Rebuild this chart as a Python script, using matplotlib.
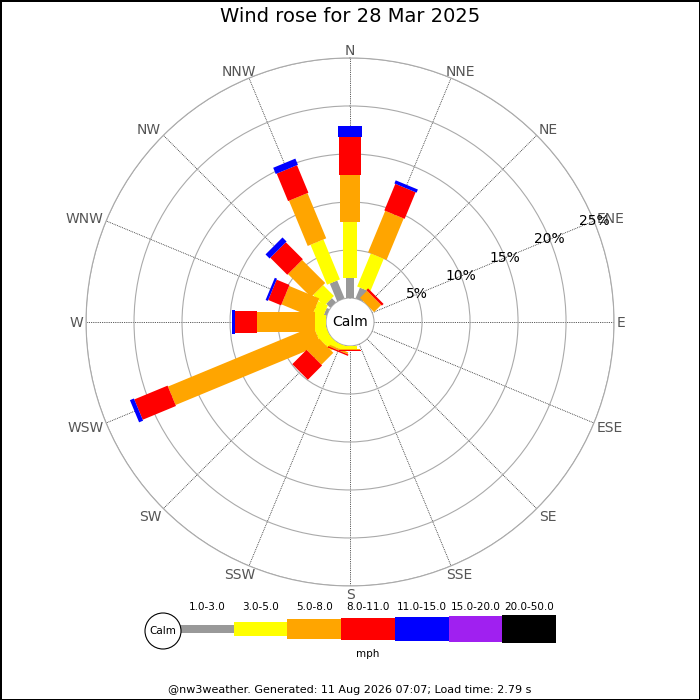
import numpy as np
import matplotlib
matplotlib.use("Agg")
from matplotlib import pyplot as plt
from matplotlib.patches import Ellipse

# wind directions, clockwise from north
directions = ["N", "NNE", "NE", "ENE", "E", "ESE", "SE", "SSE",
              "S", "SSW", "SW", "WSW", "W", "WNW", "NW", "NNW"]
speed_bins = ["1.0-3.0", "3.0-5.0", "5.0-8.0", "8.0-11.0", "11.0-15.0", "15.0-20.0", "20.0-50.0"]
bin_colors = ["#999999", "#ffff00", "#ffa500", "#ff0000", "#0000ff", "#a020f0", "#000000"]

# percent of time per direction for each speed bin
pct_1_3 = [2.1, 1.2, 0, 0, 0, 0, 0, 0, 0, 0, 0, 0, 0, 0.3, 0.6, 2.0]
pct_3_5 = [5.85, 3.73, 0, 0, 0, 0, 0, 0, 0.3, 0.5, 1.0, 1.2, 1.2, 1.1, 1.6, 4.5]
pct_5_8 = [4.85, 4.67, 1.05, 0, 0, 0, 0, 0, 0.1, 0.2, 1.76, 16.4, 6.0, 3.4, 3.4, 5.1]
pct_8_11 = [4.0, 3.0, 0.25, 0, 0, 0, 0, 0, 0.15, 0.15, 2.1, 3.75, 2.3, 1.45, 2.5, 3.1]
pct_11_15 = [1.1, 0.35, 0, 0, 0, 0, 0, 0, 0, 0, 0, 0.45, 0.26, 0.25, 0.6, 0.7]
pct_15_20 = [0] * 16
pct_20_50 = [0] * 16

ring_pcts = [5, 10, 15, 20, 25]
title = "Wind rose for 28 Mar 2025"
footer = "@nw3weather. Generated: 11 Aug 2026 07:07; Load time: 2.79 s"

# bar thickness per bin, in pixels
bar_px = [8, 14, 20, 22, 24, 26, 28]

fig = plt.figure(figsize=(7, 7), dpi=100)
fig.patch.set_edgecolor("black")
fig.patch.set_linewidth(2)

ax = fig.add_axes([0.1229, 0.1629, 0.7543, 0.7543], projection="polar")
ax.set_theta_zero_location("N")
ax.set_theta_direction(-1)
ax.set_ylim(0, 25)
ax.set_rorigin(-2.5)

theta = np.deg2rad(np.arange(16) * 22.5)
series = [pct_1_3, pct_3_5, pct_5_8, pct_8_11, pct_11_15, pct_15_20, pct_20_50]
bottom = np.zeros(16)
for vals, col, px in zip(series, bin_colors, bar_px):
    vals = np.array(vals, dtype=float)
    top = bottom + vals
    m = vals > 0
    if m.any():
        ax.vlines(theta[m], bottom[m], top[m], colors=col, linewidth=px * 0.72,
                  capstyle="butt", zorder=3)
    bottom = top

# grid
ax.set_xticks(theta)
ax.set_xticklabels([])
ax.set_yticks(ring_pcts)
ax.set_yticklabels([])
ax.xaxis.grid(True, color="#222222", linestyle=(0, (1, 1.2)), linewidth=0.6)
ax.yaxis.grid(True, color="#aaaaaa", linestyle="-", linewidth=0.8)
for s in ax.spines.values():
    s.set_color("#aaaaaa")
    s.set_linewidth(0.8)

# compass labels just outside the outer ring, pushed out by their own size
renderer = fig.canvas.get_renderer()
for th, lab in zip(theta, directions):
    t = ax.annotate(lab, xy=(th, 25), xytext=(0, 0), textcoords="offset pixels",
                    ha="center", va="center_baseline", color="#555555", fontsize=10,
                    annotation_clip=False)
    w = t.get_window_extent(renderer).width
    s, c = np.sin(th), np.cos(th)
    fx = min(1.0, abs(s) / 0.7)
    fy = min(1.0, abs(c) / 0.7)
    dx = 3 * s + np.sign(s) * w / 2 * fx
    dy = 3 * c + np.sign(c) * 5 * fy
    t.xyann = (dx, dy)

for r in ring_pcts:
    ax.text(np.deg2rad(67.5), r, f"{r}%", ha="center", va="center", fontsize=10, zorder=5)

ax.text(0, -2.5, "Calm", ha="center", va="center", fontsize=10, zorder=5)

fig.text(0.5, 1 - 17 / 700, title, ha="center", va="center", fontsize=14)

# legend strip
lax = fig.add_axes([180 / 700, 56 / 700, 376 / 700, 30 / 700])
lax.set_xlim(0, 7)
lax.set_ylim(-15, 15)
lax.axis("off")
xs = np.arange(7) + 0.5
h = np.array(bar_px, dtype=float)
lax.bar(xs, h, bottom=-h / 2, width=1.0, color=bin_colors, linewidth=0)
for x, lab in zip(xs, speed_bins):
    lax.text(x, 22, lab, ha="center", va="center", fontsize=7.5, clip_on=False)
lax.text(3.5, -25, "mph", ha="center", va="center", fontsize=7.5, clip_on=False)
px_x = 376 / 7
lax.add_patch(Ellipse((-17 / px_x, -2), 36 / px_x, 36, facecolor="white",
                      edgecolor="black", linewidth=0.8, clip_on=False))
lax.text(-17 / px_x, -2, "Calm", ha="center", va="center", fontsize=7.5, clip_on=False)

fig.text(0.5, 1 - 690 / 700, footer, ha="center", va="center", fontsize=8)

fig.savefig("out.png", dpi=100)
